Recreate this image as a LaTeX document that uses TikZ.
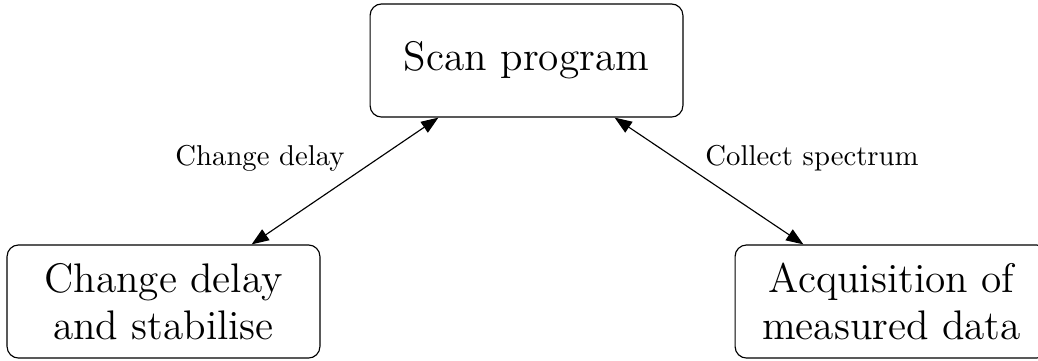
\documentclass[tikz,border=0pt]{standalone}
\usetikzlibrary{arrows.meta}
\begin{document}
\begin{tikzpicture}[x=0.3484pt, y=-0.3484pt,
  stage/.style={draw, rounded corners=4pt, line width=0.4pt, align=center,
    minimum width=109pt, minimum height=39.4pt, inner sep=2pt,
    font=\fontsize{14.4}{16.6}\selectfont},
  tag/.style={font=\normalsize, inner sep=1pt},
  link/.style={{Triangle[length=6pt,width=4.5pt]}-{Triangle[length=6pt,width=4.5pt]}, line width=0.4pt}]
  \useasboundingbox (0,0) rectangle (1038,360);
  \node[stage] (scan) at (526.5,60.5) {Scan program};
  \node[stage] (delay) at (163.5,301.5) {Change delay\\and stabilise};
  \node[stage] (acq) at (891.5,301.5) {Acquisition of\\measured data};
  \draw[link] ([xshift=-24pt]delay.north east) -- ([xshift=24pt]scan.south west);
  \draw[link] ([xshift=-24pt]scan.south east) -- ([xshift=24pt]acq.north west);
  \node[tag] (ldelay) at (260,158) {Change delay};
  \node[tag] (lcollect) at (812,158) {Collect spectrum};
\end{tikzpicture}
\end{document}
